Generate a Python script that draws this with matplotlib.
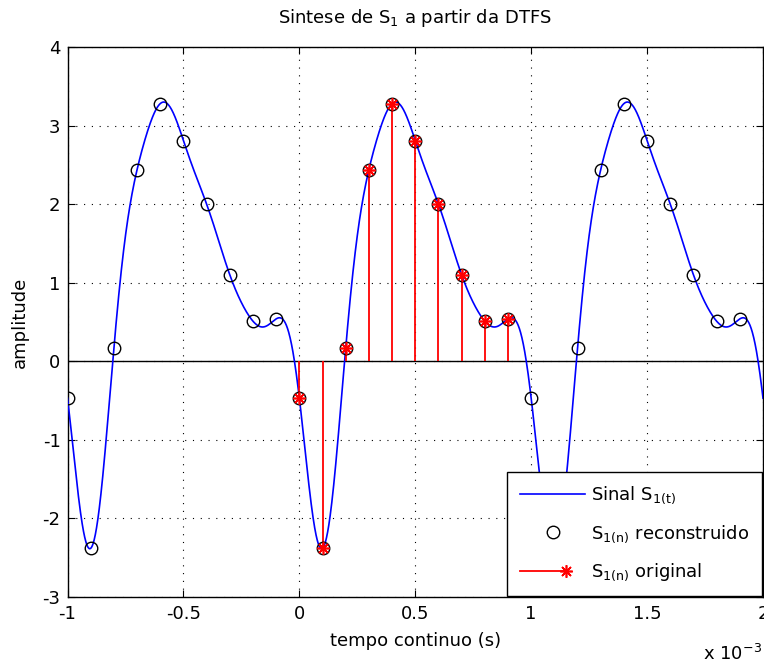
import matplotlib
matplotlib.use("Agg")
import matplotlib.pyplot as plt
import numpy as np
from matplotlib.lines import Line2D
from matplotlib.legend_handler import HandlerBase
from matplotlib.ticker import FuncFormatter, MultipleLocator

plt.rcParams['font.family'] = ['DejaVu Sans']
plt.rcParams['mathtext.default'] = 'regular'
plt.rcParams['axes.unicode_minus'] = False
plt.rcParams['font.size'] = 13

# One period of the discrete signal (N = 10 samples, T = 1 ms)
T = 1e-3
N = 10
s1_n = np.array([-0.47, -2.38, 0.17, 2.44, 3.28, 2.81, 2.00, 1.10, 0.51, 0.54])
periods = [-1, 0, 1]

# DTFS coefficients and synthesis of the continuous signal
n = np.arange(N)
k = np.arange(-N // 2, N // 2 + 1)
a_k = np.array([np.sum(s1_n * np.exp(-2j * np.pi * kk * n / N)) / N for kk in k])
w_k = np.where(np.abs(k) == N // 2, 0.5, 1.0)
t = np.linspace(-1e-3, 2e-3, 3001)
s1_t = np.real(np.sum(w_k[:, None] * a_k[:, None] *
                      np.exp(2j * np.pi * k[:, None] * t[None, :] / T), axis=0))

# reconstructed samples over three periods
t_n = np.concatenate([(p * N + n) * T / N for p in periods])
s_rec = np.tile(s1_n, len(periods))
# original samples, one period
t_orig = n * T / N

fig = plt.figure(figsize=(7.64, 6.66), dpi=100)
ax = fig.add_axes([0.0884, 0.1036, 0.9103, 0.8258])

ax.axhline(0, color='k', lw=1.0, zorder=2)
ax.plot(t, s1_t, color='b', lw=1.2, zorder=3, label=r'Sinal $S_{1(t)}$')
ax.plot(t_n, s_rec, 'o', mec='k', mfc='none', ms=9, mew=1.0, zorder=4,
        label=r'$S_{1(n)}$ reconstruido')
ax.vlines(t_orig, 0, s1_n, color='r', lw=1.3, zorder=3)
ax.plot(t_orig, s1_n, ls='none', marker=(8, 2, 0), color='r', ms=9, mew=1.2,
        zorder=5)

ax.set_xlim(-1e-3, 2e-3)
ax.set_ylim(-3, 4)
ax.xaxis.set_major_locator(MultipleLocator(0.5e-3))
ax.yaxis.set_major_locator(MultipleLocator(1))
ax.xaxis.set_major_formatter(FuncFormatter(lambda v, p: '%g' % round(v / 1e-3, 3)))
ax.tick_params(direction='in', length=5, width=0.8, top=True, right=True,
               labelsize=13)
ax.tick_params(axis='x', pad=6)
ax.tick_params(axis='y', pad=5)
ax.grid(True, color='k', linestyle=(0, (1, 6)), lw=0.8)
for sp in ax.spines.values():
    sp.set_linewidth(1.0)

ax.set_title(r'Sintese de $S_1$ a partir da DTFS', fontsize=13, pad=17)
ax.set_xlabel('tempo continuo (s)', fontsize=13, labelpad=6)
ax.set_ylabel('amplitude', fontsize=13, labelpad=10)
ax.text(0.999, -0.1145, r'x 10$^{-3}$', transform=ax.transAxes, ha='right',
        va='baseline', fontsize=13)


class StemHandle:
    pass


class StemLegendHandler(HandlerBase):
    def create_artists(self, legend, orig_handle, xdescent, ydescent, width,
                       height, fontsize, trans):
        y = height / 2 - ydescent
        xm = -xdescent + 0.70 * width
        line = Line2D([-xdescent, xm], [y, y], color='r', lw=1.3)
        mark = Line2D([xm], [y], ls='none', marker=(8, 2, 0), color='r',
                      ms=9, mew=1.2)
        line.set_transform(trans)
        mark.set_transform(trans)
        return [line, mark]


handles, labels = ax.get_legend_handles_labels()
handles.append(StemHandle())
labels.append(r'$S_{1(n)}$ original')
leg = ax.legend(handles, labels, loc='lower right', bbox_to_anchor=(1.0, 0.0),
                handler_map={StemHandle: StemLegendHandler()},
                numpoints=1, handlelength=3.6, handletextpad=0.35,
                labelspacing=0.95, borderpad=0.7, borderaxespad=0.05,
                fancybox=False, framealpha=1, edgecolor='k', fontsize=13)
leg.get_frame().set_linewidth(1.0)

fig.savefig('out.png', dpi=100)
